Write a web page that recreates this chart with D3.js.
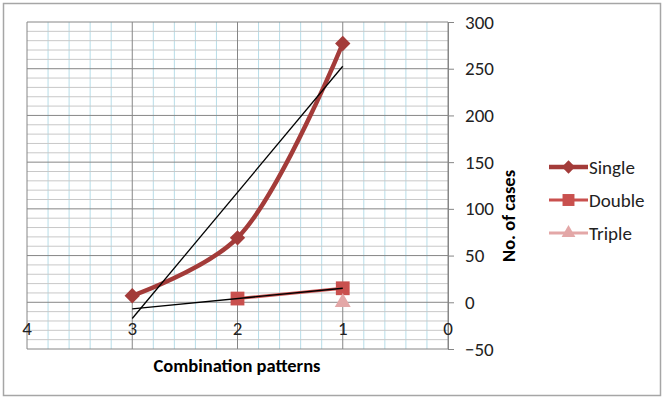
<!DOCTYPE html>
<html>
<head>
<meta charset="utf-8">
<script src="https://cdn.jsdelivr.net/npm/d3@7"></script>
<style>
    body { margin: 0; background: #fff; }
    text { font-family: Calibri, Carlito, "Open Sans", sans-serif; }
</style>
</head>
<body>
<svg id="chart"></svg>
<script>
// combination patterns on the x axis (reversed), cases on the y axis
const patterns = [3, 2, 1];
const singleCases = [7, 69, 277];
const doublePatterns = [2, 1];
const doubleCases = [4, 15];
const triplePatterns = [1];
const tripleCases = [0];

const xTicks = [4, 3, 2, 1, 0];
const yTicks = [-50, 0, 50, 100, 150, 200, 250, 300];

const width = 665;
const height = 400;

const svg = d3.select('#chart')
    .attr('width', width)
    .attr('height', height);

// outer frame
svg.append('rect')
    .attr('x', 3.5).attr('y', 3.5)
    .attr('width', 657).attr('height', 392)
    .style('fill', 'white')
    .style('stroke', '#a6a6a6')
    .style('stroke-width', 1.5);

const x = d3.scaleLinear().domain([4, 0]).range([27, 448]);
const y = d3.scaleLinear().domain([-50, 300]).range([349, 22]);

const grid = svg.append('g').attr('class', 'grid');

// minor vertical lines (light blue)
grid.selectAll('.vminor')
    .data(d3.range(0, 4.01, 0.2).filter(v => Math.abs(v - Math.round(v)) > 0.01))
    .enter().append('line')
    .attr('x1', d => x(d)).attr('x2', d => x(d))
    .attr('y1', y(300)).attr('y2', y(-50))
    .style('stroke', '#b7dde8')
    .style('stroke-width', 1);

// minor horizontal lines (gray)
grid.selectAll('.hminor')
    .data(d3.range(-50, 301, 10).filter(v => v % 50 !== 0))
    .enter().append('line')
    .attr('x1', x(4)).attr('x2', x(0))
    .attr('y1', d => y(d)).attr('y2', d => y(d))
    .style('stroke', '#c8c8c8')
    .style('stroke-width', 1);

// major lines
grid.selectAll('.vmajor')
    .data(xTicks)
    .enter().append('line')
    .attr('x1', d => x(d)).attr('x2', d => x(d))
    .attr('y1', y(300)).attr('y2', y(-50))
    .style('stroke', '#868686')
    .style('stroke-width', 1);

grid.selectAll('.hmajor')
    .data(yTicks)
    .enter().append('line')
    .attr('x1', x(4)).attr('x2', x(0))
    .attr('y1', d => y(d)).attr('y2', d => y(d))
    .style('stroke', '#868686')
    .style('stroke-width', 1);

// right y axis
const yAxis = svg.append('g')
    .attr('transform', `translate(${x(0)},0)`)
    .call(d3.axisRight(y).tickValues(yTicks).tickSize(6).tickPadding(11));
yAxis.select('.domain').style('stroke', '#868686');
yAxis.selectAll('.tick line').style('stroke', '#868686');
yAxis.selectAll('.tick text')
    .style('font-size', '19px')
    .style('fill', '#222');

// x labels sit under the zero line
svg.append('g').selectAll('text')
    .data(xTicks)
    .enter().append('text')
    .attr('x', d => x(d))
    .attr('y', y(0) + 33)
    .attr('text-anchor', 'middle')
    .style('font-size', '19px')
    .style('fill', '#222')
    .text(d => d);

svg.append('text')
    .attr('x', 237).attr('y', 372)
    .attr('text-anchor', 'middle')
    .style('font-size', '18.5px')
    .style('font-weight', 'bold')
    .text('Combination patterns');

svg.append('text')
    .attr('transform', 'translate(515,216) rotate(-90)')
    .attr('text-anchor', 'middle')
    .style('font-size', '18.5px')
    .style('font-weight', 'bold')
    .text('No. of cases');

const toPoints = (xs, ys) => xs.map((v, i) => [v, ys[i]]);

// least squares trend line, drawn across the single series' x range
const trend = (pts, x0, x1) => {
    const mx = d3.mean(pts, p => p[0]);
    const my = d3.mean(pts, p => p[1]);
    const slope = d3.sum(pts, p => (p[0] - mx) * (p[1] - my)) / d3.sum(pts, p => (p[0] - mx) ** 2);
    return [[x0, my + slope * (x0 - mx)], [x1, my + slope * (x1 - mx)]];
};

const series = [
    { name: 'Single', pts: toPoints(patterns, singleCases), color: '#a33b39', width: 4.5,
        symbol: d3.symbolDiamond2, size: 150, curve: d3.curveCatmullRom.alpha(0.5) },
    { name: 'Double', pts: toPoints(doublePatterns, doubleCases), color: '#c9504e', width: 3,
        symbol: d3.symbolSquare, size: 190, curve: d3.curveLinear },
    { name: 'Triple', pts: toPoints(triplePatterns, tripleCases), color: '#e3a7a7', width: 3,
        symbol: d3.symbolTriangle, size: 110, curve: d3.curveLinear }
];

const plot = svg.append('g').attr('class', 'plot');

series.forEach(s => {
    const line = d3.line().curve(s.curve).x(p => x(p[0])).y(p => y(p[1]));
    if (s.pts.length > 1) {
        plot.append('path')
            .attr('d', line(s.pts))
            .style('fill', 'none')
            .style('stroke', s.color)
            .style('stroke-width', s.width)
            .style('stroke-linejoin', 'round');
    }
    plot.selectAll(null)
        .data(s.pts)
        .enter().append('path')
        .attr('transform', p => `translate(${x(p[0])},${y(p[1])})`)
        .attr('d', d3.symbol(s.symbol, s.size))
        .style('fill', s.color);
});

// black linear trend lines for single and double
const trendLine = d3.line().x(p => x(p[0])).y(p => y(p[1]));
[series[0], series[1]].forEach(s => {
    plot.append('path')
        .attr('d', trendLine(trend(s.pts, 3, 1)))
        .style('fill', 'none')
        .style('stroke', '#000')
        .style('stroke-width', 1.3);
});

// legend
const legend = svg.append('g').selectAll('g')
    .data(series)
    .enter().append('g')
    .attr('transform', (d, i) => `translate(549,${167 + i * 33})`);

legend.append('line')
    .attr('x1', 0).attr('x2', 39)
    .style('stroke', d => d.color)
    .style('stroke-width', d => d.width);

legend.append('path')
    .attr('transform', 'translate(19.5,0)')
    .attr('d', d => d3.symbol(d.symbol, d.size * 0.75)())
    .style('fill', d => d.color);

legend.append('text')
    .attr('x', 40)
    .attr('dy', '0.35em')
    .style('font-size', '19px')
    .style('fill', '#222')
    .text(d => d.name);
</script>
</body>
</html>
